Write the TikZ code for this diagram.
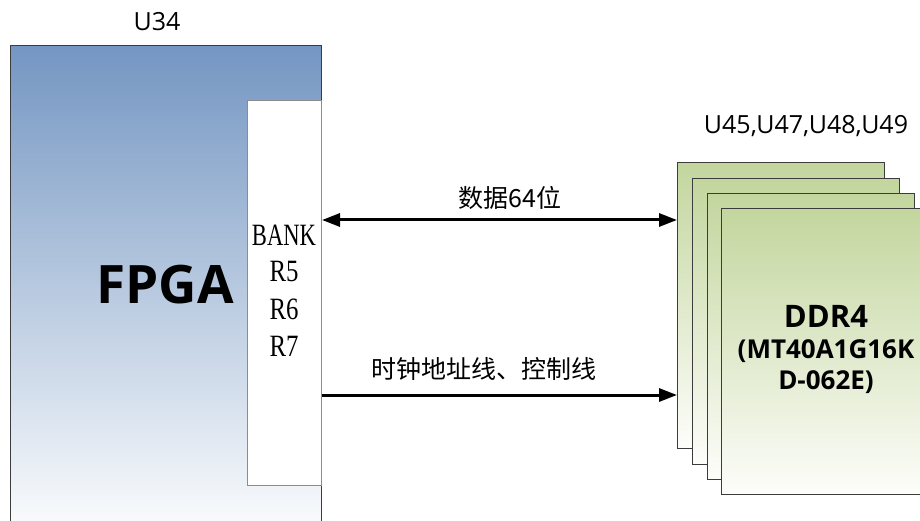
\documentclass[tikz,border=0pt]{standalone}
\usepackage{fontspec}
\setmainfont{Open Sans}
\newfontfamily\cjkfont{Noto Sans CJK SC}
\newfontfamily\serifnarrow{Liberation Serif}
\usetikzlibrary{arrows.meta}
\definecolor{fpgatop}{RGB}{116,150,194}
\definecolor{ddrtop}{RGB}{195,214,158}
\definecolor{ddrbot}{RGB}{253,253,250}
\definecolor{edgedark}{RGB}{60,60,60}
\definecolor{edgegray}{RGB}{140,140,140}
\tikzset{
  fpgabox/.style={draw=edgedark, line width=0.8pt, top color=fpgatop, bottom color=white, inner sep=0pt, anchor=north west},
  bankbox/.style={draw=edgegray, line width=1pt, fill=white, inner sep=0pt, anchor=north west},
  ddrbox/.style={draw=edgedark, line width=1.4pt, top color=ddrtop, bottom color=ddrbot, inner sep=0pt, anchor=north west, minimum width=207pt, minimum height=286pt},
  sig/.style={line width=3pt},
  lbl/.style={inner sep=0pt, font=\fontsize{25}{30}\selectfont},
  cjk/.style={inner sep=0pt, font=\cjkfont\fontsize{25}{29}\selectfont},
  banktxt/.style={inner sep=0pt, align=center, font=\serifnarrow\fontsize{31}{37}\selectfont},
}
\begin{document}
\begin{tikzpicture}[x=1pt,y=-1pt]
\useasboundingbox (0,0) rectangle (920,521);
\clip (0,0) rectangle (920,521);
\node[lbl] (u34) at (157,22) {U34};
\node[fpgabox, minimum width=311pt, minimum height=500pt] (fpga) at (10,45) {};
\node[bankbox, minimum width=74pt, minimum height=385pt] (bank) at (247,100) {};
\node[inner sep=0pt, font=\bfseries\fontsize{53}{60}\selectfont] (fpgatxt) at (165,285) {FPGA};
\node[banktxt] (b1) at (284,235) {\scalebox{0.73}[1]{BANK}};
\node[banktxt] (b2) at (284,272) {\scalebox{0.8}[1]{R5}};
\node[banktxt] (b3) at (284,309) {\scalebox{0.8}[1]{R6}};
\node[banktxt] (b4) at (284,346) {\scalebox{0.8}[1]{R7}};
\node[lbl] (u45) at (806,126) {U45,U47,U48,U49};
\node[ddrbox] (d1) at (677,162) {};
\node[ddrbox] (d2) at (692,178) {};
\node[ddrbox] (d3) at (707,193) {};
\node[ddrbox] (d4) at (721,208) {};
\node[inner sep=0pt, align=center, font=\bfseries\fontsize{31}{36}\selectfont] (ddrtxt) at (826,316) {DDR4};
\node[inner sep=0pt, align=center, font=\bfseries\fontsize{26}{31}\selectfont] (ddrpn) at (826,367) {(MT40A1G16K\\D-062E)};
\coordinate (ya) at (0,220);
\coordinate (yb) at (0,395);
\draw[sig, {Triangle[length=18pt, width=13pt]}-{Triangle[length=18pt, width=13pt]}] (bank.east |- ya) -- (d1.west |- ya);
\draw[sig, -{Triangle[length=18pt, width=13pt]}] (bank.east |- yb) -- (d1.west |- yb);
\node[cjk] (datalbl) at (510,198) {数据64位};
\node[cjk] (ctrllbl) at (484,369) {时钟地址线、控制线};
\end{tikzpicture}
\end{document}
